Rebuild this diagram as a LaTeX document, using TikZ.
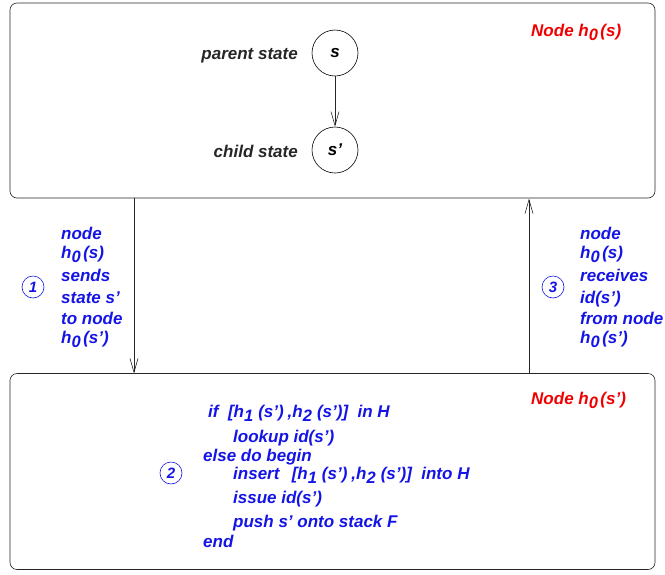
\documentclass[tikz,border=0pt]{standalone}
\usepackage{fontspec}
\setmainfont{Liberation Sans}
\usetikzlibrary{arrows.meta}
\definecolor{txtblue}{RGB}{20,20,230}
\definecolor{txtred}{RGB}{240,0,0}
\newcommand{\lowsub}[1]{\raisebox{-0.45ex}{\fontsize{16.5}{16}\selectfont #1}\kern2.5pt}
\newcommand{\wsub}[1]{\raisebox{-0.45ex}{\fontsize{16.5}{16}\selectfont #1}\kern5pt}
\begin{document}
\begin{tikzpicture}[x=1pt,y=-1pt,
  box/.style={draw=black!85,line width=0.6pt,rounded corners=7pt},
  state/.style={draw=black,line width=0.6pt,circle,minimum size=46pt,inner sep=0pt,font=\fontsize{17}{20}\selectfont\bfseries\itshape},
  lbl/.style={font=\fontsize{17}{20}\selectfont\bfseries\itshape,text=black!85,inner sep=0pt},
  red/.style={font=\fontsize{17}{20}\selectfont\bfseries\itshape,text=txtred,inner sep=0pt,anchor=base west},
  blu/.style={font=\fontsize{17}{20}\selectfont\bfseries\itshape,text=txtblue,inner sep=0pt,anchor=base west},
  num/.style={draw=txtblue,line width=0.6pt,circle,minimum size=22pt,inner sep=0pt,text=txtblue,font=\fontsize{15}{16}\selectfont\bfseries\itshape},
  conn/.style={draw=black!85,line width=0.6pt,-{Straight Barb[length=14pt,width=8pt]}}
]
\useasboundingbox (0,0) rectangle (665,574);
% boxes
\node[box,minimum width=645pt,minimum height=195pt,inner sep=0pt] (top) at (332.5,100.5) {};
\node[box,minimum width=645pt,minimum height=196pt,inner sep=0pt] (bot) at (332.5,471.5) {};
% states
\node[state] (s) at (335,53) {s};
\node[state] (sp) at (335,150) {s'};
\draw[conn] (s) -- (sp);
\node[lbl,anchor=base east] (ps) at (298,59) {parent state};
\node[lbl,anchor=base east] (cs) at (298,157) {child state};
\node[red] (n0) at (531,36) {Node h\lowsub{0}(s)};
\node[red] (n1) at (531,404) {Node h\lowsub{0}(s')};
% connectors
\coordinate (a1) at (134,198);
\coordinate (b1) at (134,373.5);
\coordinate (a3) at (529,373.5);
\coordinate (b3) at (529,198.5);
\draw[conn] (a1) -- (b1);
\draw[conn] (a3) -- (b3);
% step 1
\node[num] (c1) at (33,287) {1};
\node[blu] (l11) at (61,239) {node};
\node[blu] (l12) at (61,258) {h\lowsub{0}(s)};
\node[blu] (l13) at (61,281) {sends};
\node[blu] (l14) at (61,303) {state s'};
\node[blu] (l15) at (61,324) {to node};
\node[blu] (l16) at (61,343) {h\lowsub{0}(s')};
% step 3
\node[num] (c3) at (553,287) {3};
\node[blu] (l31) at (580,239) {node};
\node[blu] (l32) at (580,258) {h\lowsub{0}(s)};
\node[blu] (l33) at (580,281) {receives};
\node[blu] (l34) at (580,303) {id(s')};
\node[blu] (l35) at (580,324) {from node};
\node[blu] (l36) at (580,343) {h\lowsub{0}(s')};
% step 2
\node[num] (c2) at (171,473) {2};
\node[blu] (k1) at (208,417) {if\ \ [h\wsub{1}(s')\kern4pt,h\wsub{2}(s')]\ \ in H};
\node[blu] (k2) at (233,442) {lookup id(s')};
\node[blu] (k3) at (203,461) {else do begin};
\node[blu] (k4) at (233,479) {insert\ \ \,[h\wsub{1}(s')\kern4pt,h\wsub{2}(s')]\ \ into H};
\node[blu] (k5) at (233,503) {issue id(s')};
\node[blu] (k6) at (233,527) {push s' onto stack F};
\node[blu] (k7) at (203,547) {end};
\end{tikzpicture}
\end{document}
